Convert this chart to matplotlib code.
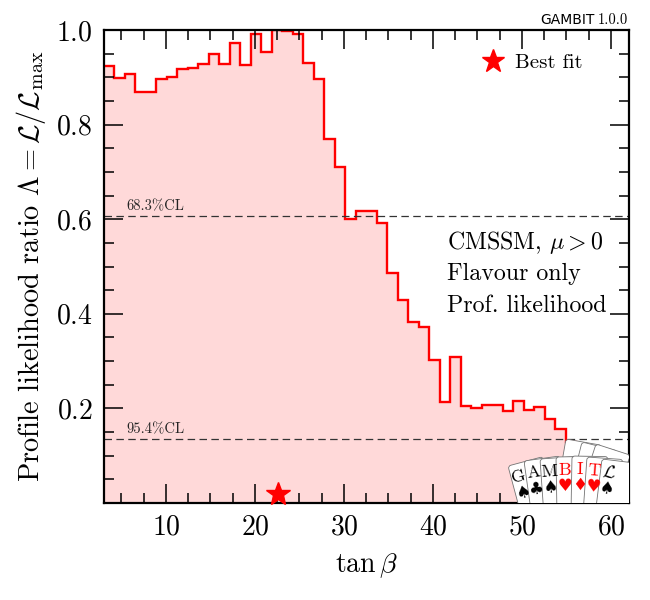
import numpy as np
import matplotlib
matplotlib.use("Agg")
import matplotlib.pyplot as plt
from matplotlib.patches import FancyBboxPatch
from matplotlib.lines import Line2D
from matplotlib import transforms

plt.rcParams['font.family'] = 'serif'
plt.rcParams['font.serif'] = ['cmr10']
plt.rcParams['mathtext.fontset'] = 'cm'
plt.rcParams['axes.formatter.use_mathtext'] = True

# tan(beta) binning and the profile likelihood ratio
tanb_lo, tanb_hi = 3.0, 62.0
n_bins = 50
like = [0.924, 0.898, 0.907, 0.869, 0.869, 0.896, 0.900, 0.918, 0.920, 0.929,
        0.949, 0.928, 0.972, 0.925, 0.991, 0.953, 1.000, 0.997, 0.991, 0.931,
        0.896, 0.770, 0.711, 0.600, 0.617, 0.617, 0.593, 0.487, 0.429, 0.383,
        0.373, 0.302, 0.213, 0.308, 0.205, 0.201, 0.207, 0.207, 0.195, 0.216,
        0.197, 0.202, 0.177, 0.156, 0.128, 0.120, 0.110, 0.100, 0.090, 0.080]
best_fit = (22.6, 0.02)
cl_levels = [np.exp(-0.5), np.exp(-2.0)]
cl_names = ['68.3%CL', '95.4%CL']
x_ticks = [10, 20, 30, 40, 50, 60]
y_ticks = [0.2, 0.4, 0.6, 0.8, 1.0]
info_lines = [r'CMSSM, $\mu > 0$', 'Flavour only', 'Prof. likelihood']

edges = np.linspace(tanb_lo, tanb_hi, n_bins + 1)

fig = plt.figure(figsize=(6.5, 6.0), dpi=100)
ax = fig.add_axes([103.7 / 650, 1 - 503 / 600, 525 / 650, 473 / 600])

ax.stairs(like, edges, baseline=0, fill=True, color='red', alpha=0.15, lw=0)
ax.stairs(like, edges, baseline=None, color='red', lw=1.7)

for lev, name in zip(cl_levels, cl_names):
    ax.axhline(lev, color='0.2', lw=0.9, dashes=(6, 3.5))
    ax.text(5.6, lev + 0.006, name, fontsize=10.5, color='0.15', va='bottom')

ax.plot(best_fit[0], best_fit[1], marker='*', color='red', ms=18, ls='none',
        clip_on=False, zorder=5)

star = Line2D([], [], marker='*', color='red', ms=17, ls='none')
ax.legend([star], ['Best fit'], loc='upper left', frameon=False, fontsize=15,
          handlelength=1.0, handletextpad=0.55, borderaxespad=0,
          bbox_to_anchor=(0.706, 0.968))

for i, line in enumerate(info_lines):
    ax.text(0.654, 0.55 - i * 0.0665, line, transform=ax.transAxes,
            fontsize=17.2, va='center', ha='left')

ax.set_xlim(tanb_lo, tanb_hi)
ax.set_ylim(0, 1)
ax.set_xticks(x_ticks)
ax.set_yticks(y_ticks)
ax.set_xticks(np.arange(5, 62, 2.5), minor=True)
ax.set_yticks(np.arange(0.05, 1.0, 0.05), minor=True)
ax.tick_params(which='both', direction='in', top=True, right=True,
               labelsize=20, pad=8)
ax.tick_params(which='major', length=14, width=1.1)
ax.tick_params(which='minor', length=7, width=1.1)
for s in ax.spines.values():
    s.set_linewidth(1.6)

ax.set_xlabel(r'$\tan\beta$', fontsize=20, labelpad=8)
ax.set_ylabel(r'Profile likelihood ratio $\Lambda = \mathcal{L}/\mathcal{L}_\mathrm{max}$',
              fontsize=20.4, labelpad=6)

fig.text(595 / 650, 1 - 23.5 / 600, 'GAMBIT', fontsize=10, ha='right',
         va='baseline', family='DejaVu Sans')
fig.text(628.5 / 650, 1 - 23.5 / 600, '1.0.0', fontsize=10.5, ha='right',
         va='baseline')

# GAMBIT card logo, in pixel coordinates (y pointing up)
lx0, lx1, ly0, ly1 = 500, 628.8, 97, 172
lax = fig.add_axes([lx0 / 650, ly0 / 600, (lx1 - lx0) / 650, (ly1 - ly0) / 600])
lax.set_xlim(lx0, lx1)
lax.set_ylim(ly0, ly1)
lax.axis('off')
lax.set_zorder(10)

back_cards = [(566, 161, -10), (582, 158, -14), (596, 156, -18)]
cards = [('G', '\u2660', 'black', 508, 134, 15),
         ('A', '\u2663', 'black', 524, 139, 8),
         ('M', '\u2660', 'black', 540, 141, 4),
         ('B', '\u2665', 'red', 556, 143, 1),
         ('I', '\u2666', 'red', 572, 144, -1),
         ('T', '\u2665', 'red', 587, 143, -4),
         (r'$\mathcal{L}$', '\u2660', 'black', 602, 141, -7)]
cw, ch = 36, 90
for (x0, y0, ang) in back_cards:
    tr = transforms.Affine2D().rotate_deg_around(x0, y0, ang) + lax.transData
    lax.add_patch(FancyBboxPatch((x0, y0 - ch), cw, ch,
                                 boxstyle='round,pad=0,rounding_size=3',
                                 fc='white', ec='0.45', lw=0.6, transform=tr))
for (let, suit, col, x0, y0, ang) in cards:
    tr = transforms.Affine2D().rotate_deg_around(x0, y0, ang) + lax.transData
    lax.add_patch(FancyBboxPatch((x0, y0 - ch), cw, ch,
                                 boxstyle='round,pad=0,rounding_size=3',
                                 fc='white', ec='0.45', lw=0.6, transform=tr))
    th = np.deg2rad(ang)
    lx, ly = 8.0, -13.0
    px = x0 + lx * np.cos(th) - ly * np.sin(th)
    py = y0 + lx * np.sin(th) + ly * np.cos(th)
    lax.text(px, py, let, color=col, fontsize=13, ha='center', va='center',
             rotation=ang)
    lx, ly = 8.0, -29.0
    px = x0 + lx * np.cos(th) - ly * np.sin(th)
    py = y0 + lx * np.sin(th) + ly * np.cos(th)
    lax.text(px, py, suit, color=col, fontsize=12, ha='center', va='center',
             rotation=ang, family='DejaVu Sans')

fig.savefig('out.png', dpi=100)
